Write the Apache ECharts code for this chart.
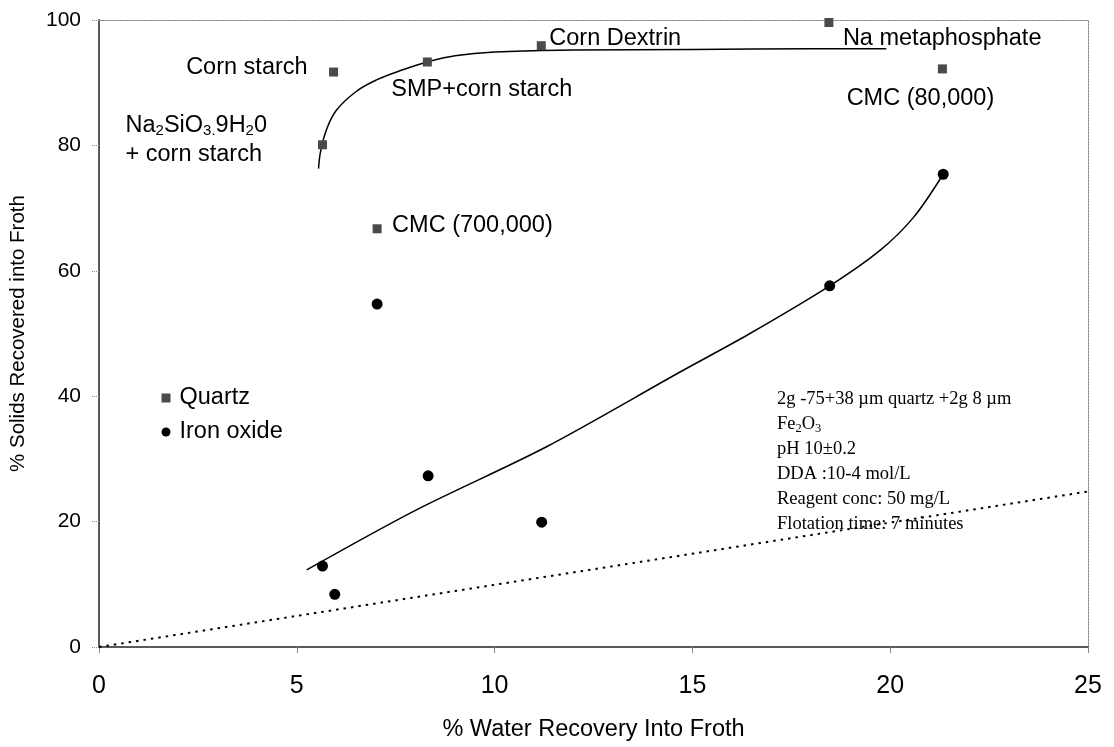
<!DOCTYPE html>
<html>
<head>
<meta charset="utf-8">
<script src="https://cdn.jsdelivr.net/npm/echarts@6/dist/echarts.min.js"></script>
<style>html,body{margin:0;padding:0;background:#fff}#chart{width:1114px;height:747px}</style>
</head>
<body>
<div id="chart"></div>
<script>
// ---- data ----
const xTicks = [0, 5, 10, 15, 20, 25];
const yTicks = [0, 20, 40, 60, 80, 100];

const quartzNames = ['Corn starch', 'Na2SiO3.9H20 + corn starch', 'SMP+corn starch', 'Corn Dextrin', 'Na metaphosphate', 'CMC (80,000)', 'CMC (700,000)'];
const quartzX = [5.93, 5.65, 8.30, 11.18, 18.45, 21.32, 7.03];
const quartzY = [91.7, 80.1, 93.3, 95.9, 99.6, 92.2, 66.7];

const ironX = [5.65, 5.96, 7.03, 8.32, 11.19, 18.47, 21.34];
const ironY = [12.9, 8.4, 54.7, 27.3, 19.9, 57.6, 75.4];

// fitted trend curves
const quartzFitX = [5.55, 5.6, 5.75, 6.0, 6.5, 7.0, 7.7, 8.3, 9.0, 10.0, 12.0, 15.0, 18.0, 19.9];
const quartzFitY = [76.3, 79.0, 82.5, 85.6, 88.6, 90.4, 92.1, 93.3, 94.3, 94.9, 95.2, 95.3, 95.4, 95.4];

const ironFitX = [5.25, 8.0, 11.3, 14.7, 16.4, 18.47, 19.75, 20.6, 21.34];
const ironFitY = [12.3, 21.8, 31.9, 43.9, 49.8, 57.6, 63.3, 68.6, 75.4];

const refLineX = [0, 25];
const refLineY = [0, 24.8];

const conditionLines = [
  '2g -75+38 \u00b5m quartz +2g 8 \u00b5m',
  '{n|Fe}{s|2}{n|O}{s|3}',
  'pH 10\u00b10.2',
  'DDA :10-4 mol/L',
  'Reagent conc: 50 mg/L',
  'Flotation time: 7 minutes'
];

// ---- styling of labels (positions relative to each point) ----
const SANS = '"Liberation Sans", Arial, sans-serif';
const SERIF = '"Liberation Serif", "Times New Roman", serif';
const labelStyle = {
  'Corn starch':       { align: 'right', offset: [-26, -5] },
  'Na2SiO3.9H20 + corn starch': { align: 'left', offset: [-197, -5],
      text: '{n|Na}{s|2}{n|SiO}{s|3.}{n|9H}{s|2}{n|0}\n{n|+ corn starch}' },
  'SMP+corn starch':   { align: 'left', offset: [-36, 28] },
  'Corn Dextrin':      { align: 'left', offset: [8, -7] },
  'Na metaphosphate':  { align: 'left', offset: [14, 16] },
  'CMC (80,000)':      { align: 'center', offset: [-22, 30] },
  'CMC (700,000)':     { align: 'left', offset: [15, -3] }
};

const zip = (a, b) => a.map((v, i) => [v, b[i]]);
const QSIZE = 9;

const quartzData = quartzX.map((x, i) => {
  const name = quartzNames[i];
  const st = labelStyle[name];
  return {
    value: [x, quartzY[i]],
    name: name,
    label: {
      show: true,
      position: [QSIZE / 2, QSIZE / 2],
      align: st.align,
      verticalAlign: 'middle',
      offset: st.offset,
      formatter: st.text || name,
      color: '#000',
      opacity: 1,
      fontFamily: SANS,
      fontSize: 23.5,
      lineHeight: 29,
      rich: {
        n: { fontSize: 23.5, fontFamily: SANS, color: '#000', lineHeight: 29 },
        s: { fontSize: 15, fontFamily: SANS, color: '#000', lineHeight: 29, padding: [12, 0, 0, 0] }
      }
    }
  };
});

const frameLine = { show: true, onZero: false, lineStyle: { color: '#8a8a8a', width: 1, type: [2, 1] } };

const chart = echarts.init(document.getElementById('chart'), null, { renderer: 'canvas' });

chart.setOption({
  animation: false,
  backgroundColor: '#fff',
  grid: { left: 97, right: 26, top: 20, bottom: 100, show: false },
  legend: {
    data: [
      { name: 'Quartz', icon: 'rect' },
      { name: 'Iron oxide', icon: 'circle' }
    ],
    orient: 'vertical',
    left: 161.5,
    top: 386,
    padding: 0,
    itemWidth: 9,
    itemHeight: 9,
    itemGap: 10,
    textStyle: { fontFamily: SANS, fontSize: 23.5, color: '#000', padding: [0, 0, 0, 4] },
    selectedMode: false
  },
  xAxis: [{
    type: 'value',
    min: xTicks[0],
    max: xTicks[xTicks.length - 1],
    interval: 5,
    name: '% Water Recovery Into Froth',
    nameLocation: 'middle',
    nameGap: 71,
    nameTextStyle: { fontFamily: SANS, fontSize: 23.5, color: '#000' },
    axisLine: { onZero: false, lineStyle: { color: '#5a5a5a', width: 2 } },
    axisTick: { show: true, inside: false, length: 6, lineStyle: { color: '#888', width: 1 } },
    axisLabel: { margin: 27, fontFamily: SANS, fontSize: 25, color: '#000' },
    splitLine: { show: false }
  }, {
    type: 'value',
    position: 'top',
    min: xTicks[0],
    max: xTicks[xTicks.length - 1],
    interval: 5,
    axisLine: frameLine,
    axisTick: { show: false },
    axisLabel: { show: false },
    splitLine: { show: false }
  }],
  yAxis: [{
    type: 'value',
    min: yTicks[0],
    max: yTicks[yTicks.length - 1],
    interval: 20,
    name: '% Solids Recovered into Froth',
    nameLocation: 'middle',
    nameGap: 70,
    nameTextStyle: { fontFamily: SANS, fontSize: 20.5, color: '#000' },
    axisLine: { onZero: false, lineStyle: { color: '#5a5a5a', width: 2 } },
    axisTick: { show: true, inside: false, length: 7, lineStyle: { color: '#888', width: 1, type: 'dotted' } },
    axisLabel: { margin: 18, fontFamily: SANS, fontSize: 21, color: '#000' },
    splitLine: { show: false }
  }, {
    type: 'value',
    position: 'right',
    min: yTicks[0],
    max: yTicks[yTicks.length - 1],
    interval: 20,
    axisLine: frameLine,
    axisTick: { show: false },
    axisLabel: { show: false },
    splitLine: { show: false }
  }],
  series: [
    {
      name: 'Reference line',
      type: 'line',
      data: zip(refLineX, refLineY),
      showSymbol: false,
      silent: true,
      lineStyle: { color: '#000', width: 2, type: [2.5, 5] },
      z: 1
    },
    {
      name: 'Quartz trend',
      type: 'line',
      data: zip(quartzFitX, quartzFitY),
      smooth: 0.4,
      showSymbol: false,
      silent: true,
      lineStyle: { color: '#000', width: 1.5 },
      z: 2
    },
    {
      name: 'Iron oxide trend',
      type: 'line',
      data: zip(ironFitX, ironFitY),
      smooth: 0.3,
      showSymbol: false,
      silent: true,
      lineStyle: { color: '#000', width: 1.5 },
      z: 2
    },
    {
      name: 'Quartz',
      type: 'scatter',
      symbol: 'rect',
      symbolSize: QSIZE,
      itemStyle: { color: '#4a4a4a', opacity: 1 },
      data: quartzData,
      z: 3
    },
    {
      name: 'Iron oxide',
      type: 'scatter',
      symbol: 'circle',
      symbolSize: 11,
      itemStyle: { color: '#000', opacity: 1 },
      data: zip(ironX, ironY),
      z: 3
    }
  ],
  graphic: [
    {
      type: 'text',
      left: 777,
      top: 387,
      silent: true,
      style: {
        text: conditionLines.map(l => l.startsWith('{') ? l : '{n|' + l + '}').join('\n'),
        fill: '#000',
        font: '18.5px ' + SERIF,
        lineHeight: 25,
        rich: {
          n: { fontFamily: SERIF, fontSize: 18.5, fill: '#000', lineHeight: 25 },
          s: { fontFamily: SERIF, fontSize: 12.5, fill: '#000', lineHeight: 25, padding: [9, 0, 0, 0] }
        }
      }
    }
  ]
});
</script>
</body>
</html>
